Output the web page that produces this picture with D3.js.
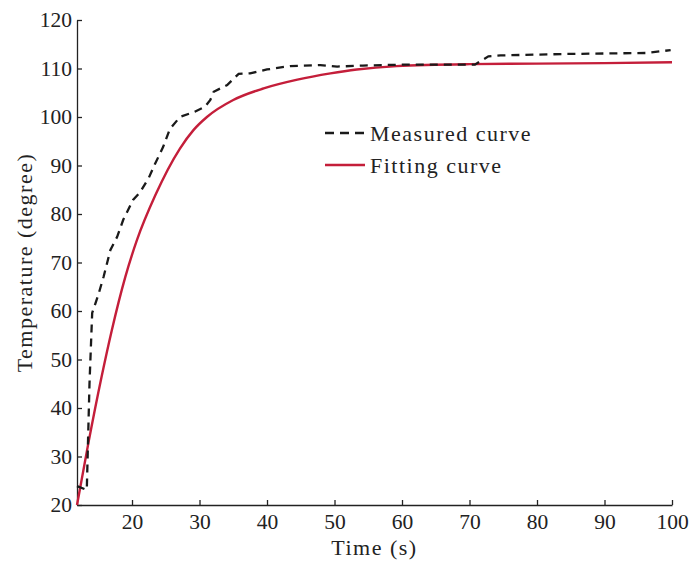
<!DOCTYPE html>
<html lang="en">
<head>
  <meta charset="UTF-8">
  <title>Measured and fitting temperature curves</title>
  <script src="https://d3js.org/d3.v7.min.js"></script>
  <style>
    body {
      margin: 0;
      padding: 0;
      background: white;
    }
    svg {
      display: block;
      font-family: "Liberation Serif", "DejaVu Serif", serif;
    }
    .axis path, .axis line {
      stroke: #222;
      stroke-width: 1.3;
    }
    .axis text {
      font-family: "Liberation Serif", serif;
      font-size: 21.5px;
      fill: #222;
    }
    .label {
      font-size: 22px;
      letter-spacing: 1.5px;
      fill: #222;
    }
  </style>
</head>
<body>
  <svg width="690" height="563"></svg>

  <script>
    // values
    const measuredTime = [11.85, 13.3, 13.7, 14.1, 15.0, 15.8, 16.8, 17.8, 18.7, 20.15, 21.2, 22.5, 23.4, 24.6, 25.6, 27.1, 29.3, 30.8, 31.6, 32.1, 34.1, 35.8, 37.5, 40.0, 43.4, 47.9, 50.4, 54.2, 60.0, 70.8, 72.8, 74.6, 84.5, 96.3, 99.8];
    const measuredTemp = [23.9, 23.1, 45.0, 59.6, 63.3, 67.1, 72.6, 75.3, 78.8, 82.9, 84.5, 87.5, 90.3, 93.8, 97.5, 100.0, 101.1, 102.1, 103.5, 105.2, 106.6, 108.9, 109.0, 109.8, 110.5, 110.7, 110.4, 110.6, 110.8, 110.8, 112.5, 112.7, 113.0, 113.2, 113.8];

    const fittingTime = [11.85, 13.5, 15.5, 17.0, 19.0, 20.7, 23.5, 27.1, 29.1, 31.1, 35.0, 39.5, 44.5, 49.4, 53.3, 59.2, 70, 80, 90, 100];
    const fittingTemp = [20.0, 32.5, 46.5, 56.0, 67.0, 74.5, 84.0, 93.5, 97.3, 100.0, 103.5, 105.9, 107.7, 109.0, 109.8, 110.5, 110.9, 111.0, 111.1, 111.3];

    const xTicks = [20, 30, 40, 50, 60, 70, 80, 90, 100];
    const yTicks = [20, 30, 40, 50, 60, 70, 80, 90, 100, 110, 120];

    const legendLabels = ["Measured curve", "Fitting curve"];

    const width = 690, height = 563;
    const margin = {top: 20, right: 18, bottom: 58, left: 77};

    const svg = d3.select("svg");

    const x = d3.scaleLinear()
      .domain([11.85, 100])
      .range([margin.left, width - margin.right]);

    const y = d3.scaleLinear()
      .domain([20, 120])
      .range([height - margin.bottom, margin.top]);

    // axes (ticks point inward)
    svg.append("g")
      .attr("class", "axis")
      .attr("transform", `translate(0,${height - margin.bottom})`)
      .call(d3.axisBottom(x).tickValues(xTicks).tickSizeInner(-5).tickSizeOuter(0).tickPadding(9));

    svg.append("g")
      .attr("class", "axis")
      .attr("transform", `translate(${margin.left},0)`)
      .call(d3.axisLeft(y).tickValues(yTicks).tickSizeInner(-5).tickSizeOuter(0).tickPadding(5));

    // axis titles
    svg.append("text")
      .attr("class", "label")
      .attr("x", (margin.left + width - margin.right) / 2)
      .attr("y", 555)
      .attr("text-anchor", "middle")
      .text("Time (s)");

    svg.append("text")
      .attr("class", "label")
      .attr("transform", `translate(32,${(margin.top + height - margin.bottom) / 2}) rotate(-90)`)
      .attr("text-anchor", "middle")
      .text("Temperature (degree)");

    const measured = measuredTime.map((t, i) => [t, measuredTemp[i]]);
    const fitting = fittingTime.map((t, i) => [t, fittingTemp[i]]);

    const line = d3.line()
      .x(d => x(d[0]))
      .y(d => y(d[1]));

    svg.append("path")
      .datum(fitting)
      .attr("fill", "none")
      .attr("stroke", "#c41e3a")
      .attr("stroke-width", 2.4)
      .attr("d", line.curve(d3.curveMonotoneX));

    svg.append("path")
      .datum(measured)
      .attr("fill", "none")
      .attr("stroke", "#1a1a1a")
      .attr("stroke-width", 2.3)
      .attr("stroke-dasharray", "8,6")
      .attr("d", line.curve(d3.curveLinear));

    // legend
    const legend = svg.append("g").attr("transform", "translate(325,133)");
    const styles = [
      {stroke: "#1a1a1a", dash: "9,6", width: 2.3},
      {stroke: "#c41e3a", dash: null, width: 2.4}
    ];
    legendLabels.forEach((label, i) => {
      const g = legend.append("g").attr("transform", `translate(0,${i * 32})`);
      g.append("line")
        .attr("x1", 0).attr("x2", 40)
        .attr("stroke", styles[i].stroke)
        .attr("stroke-width", styles[i].width)
        .attr("stroke-dasharray", styles[i].dash);
      g.append("text")
        .attr("class", "label")
        .attr("x", 45)
        .attr("dy", "0.35em")
        .text(label);
    });
  </script>
</body>
</html>
